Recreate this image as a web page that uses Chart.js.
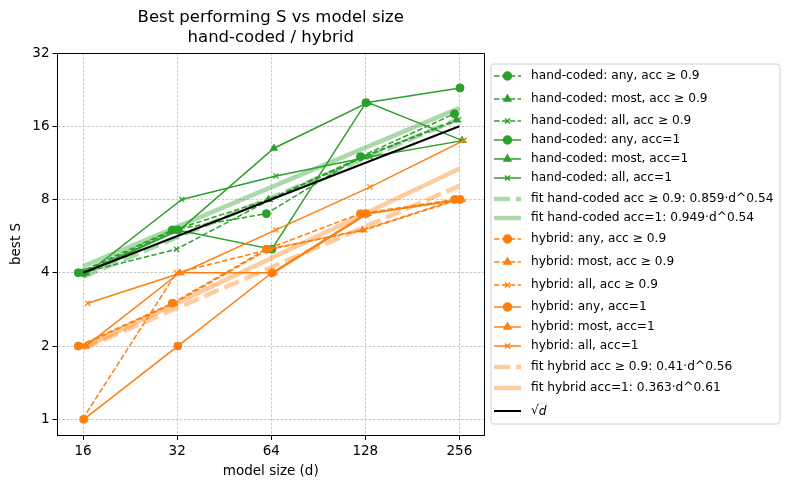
<!DOCTYPE html>
<html>
<head>
<meta charset="utf-8">
<script src="https://cdn.jsdelivr.net/npm/chart.js@4.4.1/dist/chart.umd.min.js"></script>
<style>
  html, body { margin: 0; padding: 0; background: #fff; }
</style>
</head>
<body>
<canvas id="grafico" width="790" height="489"></canvas>
<script>
// Tamaños de modelo (eje x) y marcas de los ejes
const modelSizes = [16, 32, 64, 128, 256];
const xTicks = [16, 32, 64, 128, 256];
const yTicks = [1, 2, 4, 8, 16, 32];

// hand-coded: mejor S por tamaño de modelo
const handAny09 = [4, 6, 7, 12, 18];
const handMost09 = [4, 6, 8, 12, 17];
const handAll09 = [4, 5, 8, 12, 17];
const handAny1 = [4, 6, 5, 20, 23];
const handMost1 = [4, 6, 13, 20, 14];
const handAll1 = [4, 8, 10, 12, 14];

// hybrid: mejor S por tamaño de modelo
const hybAny09 = [2, 3, 5, 7, 8];
const hybMost09 = [2, 3, 5, 6, 8];
const hybAll09 = [1, 4, 5, 6, 8];
const hybAny1 = [1, 2, 4, 7, 8];
const hybMost1 = [2, 4, 4, 7, 8];
const hybAll1 = [3, 4, 6, 9, 14];

const fitSizes = [16, 256];
const fitHand09 = [3.85, 17.2];
const fitHand1 = [4.25, 19.0];
const fitHyb09 = [1.95, 9.1];
const fitHyb1 = [1.97, 10.7];
const sqrtD = [4, 16];

// Pequeño desplazamiento en x de cada serie (para que no se tapen)
const jitter = [0.965, 0.98, 0.995, 1.005, 1.02, 1.035];

const verde = '#2ca02c';
const naranja = '#ff7f0e';
const verdeClaro = 'rgba(44, 160, 44, 0.4)';
const naranjaClaro = 'rgba(255, 127, 14, 0.4)';
const fuente = 'DejaVu Sans';

// Función para crear una serie con marcadores
function serie(label, valores, color, discontinua, marcador, k) {
    return {
        label: label,
        data: modelSizes.map((d, i) => ({x: d * jitter[k], y: valores[i]})),
        borderColor: color,
        backgroundColor: color,
        borderWidth: 1.5,
        borderDash: discontinua ? [5.5, 2.4] : [],
        pointStyle: marcador,
        pointRadius: marcador === 'crossRot' ? 3.6 : 4,
        pointBorderWidth: marcador === 'crossRot' ? 1.2 : 1,
        pointHoverRadius: 0,
        tension: 0,
        fill: false
    };
}

// Función para crear una recta de ajuste
function ajuste(label, valores, color, discontinua, ancho) {
    return {
        label: label,
        data: fitSizes.map((d, i) => ({x: d, y: valores[i]})),
        borderColor: color,
        backgroundColor: color,
        borderWidth: ancho,
        borderDash: discontinua ? [16, 6] : [],
        pointRadius: 0,
        pointHoverRadius: 0,
        tension: 0,
        fill: false
    };
}

const ge = 'acc \u2265 0.9';
const datasets = [
    serie('hand-coded: any, ' + ge, handAny09, verde, true, 'circle', 0),
    serie('hand-coded: most, ' + ge, handMost09, verde, true, 'triangle', 1),
    serie('hand-coded: all, ' + ge, handAll09, verde, true, 'crossRot', 2),
    serie('hand-coded: any, acc=1', handAny1, verde, false, 'circle', 3),
    serie('hand-coded: most, acc=1', handMost1, verde, false, 'triangle', 4),
    serie('hand-coded: all, acc=1', handAll1, verde, false, 'crossRot', 5),
    ajuste('fit hand-coded ' + ge + ': 0.859\u00b7d^0.54', fitHand09, verdeClaro, true, 4.5),
    ajuste('fit hand-coded acc=1: 0.949\u00b7d^0.54', fitHand1, verdeClaro, false, 4.5),
    serie('hybrid: any, ' + ge, hybAny09, naranja, true, 'circle', 0),
    serie('hybrid: most, ' + ge, hybMost09, naranja, true, 'triangle', 1),
    serie('hybrid: all, ' + ge, hybAll09, naranja, true, 'crossRot', 2),
    serie('hybrid: any, acc=1', hybAny1, naranja, false, 'circle', 3),
    serie('hybrid: most, acc=1', hybMost1, naranja, false, 'triangle', 4),
    serie('hybrid: all, acc=1', hybAll1, naranja, false, 'crossRot', 5),
    ajuste('fit hybrid ' + ge + ': 0.41\u00b7d^0.56', fitHyb09, naranjaClaro, true, 4.5),
    ajuste('fit hybrid acc=1: 0.363\u00b7d^0.61', fitHyb1, naranjaClaro, false, 4.5),
    ajuste('sqrt', sqrtD, '#000', false, 2)
];
// Igual que matplotlib: la última serie queda encima
datasets.forEach((ds, i) => { ds.order = datasets.length - i; });

// Posiciones verticales de las filas de la leyenda
const filasLeyenda = [76, 99, 121, 140, 159, 178, 199, 218, 239, 262, 285, 307, 327, 346, 367, 388, 411];
const tamLeyenda = 12.2;

// Plugin: título, etiquetas de ejes, marco y leyenda a la derecha
const decorado = {
    id: 'decorado',
    afterDraw(chart) {
        const c = chart.ctx;
        const a = chart.chartArea;
        c.save();

        // marco superior y derecho
        c.strokeStyle = '#000';
        c.lineWidth = 1;
        c.beginPath();
        c.moveTo(a.left, a.top + 0.5);
        c.lineTo(a.right + 0.5, a.top + 0.5);
        c.lineTo(a.right + 0.5, a.bottom);
        c.stroke();

        // título
        const cx = (a.left + a.right) / 2;
        c.fillStyle = '#000';
        c.textAlign = 'center';
        c.textBaseline = 'middle';
        c.font = '16.5px "' + fuente + '"';
        c.fillText('Best performing S vs model size', cx, 18);
        c.fillText('hand-coded / hybrid', cx, 38);

        // etiquetas de ejes
        c.font = '13.5px "' + fuente + '"';
        c.fillText('model size (d)', cx, 471);
        c.save();
        c.translate(16, (a.top + a.bottom) / 2);
        c.rotate(-Math.PI / 2);
        c.fillText('best S', 0, 0);
        c.restore();

        // caja de la leyenda
        const bx = 491, by = 64, bw = 289, bh = 360, r = 3;
        c.beginPath();
        c.moveTo(bx + r, by);
        c.arcTo(bx + bw, by, bx + bw, by + bh, r);
        c.arcTo(bx + bw, by + bh, bx, by + bh, r);
        c.arcTo(bx, by + bh, bx, by, r);
        c.arcTo(bx, by, bx + bw, by, r);
        c.closePath();
        c.fillStyle = 'rgba(255,255,255,0.8)';
        c.fill();
        c.strokeStyle = '#d0d0d0';
        c.lineWidth = 1;
        c.stroke();

        // entradas
        const f = tamLeyenda + 'px "' + fuente + '"';
        c.font = f;
        c.textAlign = 'left';
        c.textBaseline = 'middle';
        chart.data.datasets.forEach((ds, i) => {
            const y = filasLeyenda[i];
            c.save();
            c.strokeStyle = ds.borderColor;
            c.lineWidth = ds.borderWidth;
            c.setLineDash(ds.borderDash || []);
            c.beginPath();
            c.moveTo(494, y);
            c.lineTo(521, y);
            c.stroke();
            c.setLineDash([]);
            if (ds.pointRadius > 0) {
                c.fillStyle = ds.backgroundColor;
                c.strokeStyle = ds.borderColor;
                Chart.helpers.drawPoint(c, {
                    pointStyle: ds.pointStyle,
                    radius: ds.pointRadius,
                    borderWidth: ds.pointBorderWidth,
                    rotation: 0
                }, 507.5, y);
            }
            c.restore();
            c.fillStyle = '#000';
            if (ds.label === 'sqrt') {
                c.fillText('\u221a', 531, y);
                const w = c.measureText('\u221a').width;
                c.font = 'italic ' + f;
                c.fillText('d', 531 + w, y + 1);
                const dw = c.measureText('d').width;
                c.lineWidth = 0.8;
                c.beginPath();
                c.moveTo(531 + w - 0.5, y - 8);
                c.lineTo(531 + w + dw + 1, y - 8);
                c.stroke();
                c.font = f;
            } else {
                c.fillText(ds.label, 531, y);
            }
        });
        c.restore();
    }
};

const ejeComun = {
    type: 'logarithmic',
    ticks: {
        callback: v => String(v),
        font: {family: fuente, size: 13.5},
        color: '#000',
        padding: 3,
        autoSkip: false,
        maxRotation: 0
    },
    grid: {
        color: '#b0b0b0',
        lineWidth: 0.7,
        tickColor: '#000',
        tickLength: 5,
        tickWidth: 1,
        tickBorderDash: []
    },
    border: {display: true, color: '#000', width: 1, dash: [2.6, 1.6]}
};

const ctx = document.getElementById('grafico').getContext('2d');
const chart = new Chart(ctx, {
    type: 'line',
    data: {datasets: datasets},
    options: {
        responsive: false,
        devicePixelRatio: 1,
        animation: false,
        parsing: true,
        layout: {padding: {top: 53, right: 306, left: 0, bottom: 0}},
        plugins: {legend: {display: false}, tooltip: {enabled: false}, title: {display: false}},
        scales: {
            x: Object.assign({}, ejeComun, {
                min: 13.25, max: 307,
                afterBuildTicks: s => { s.ticks = xTicks.map(v => ({value: v})); },
                afterFit: s => { s.height = 54; }
            }),
            y: Object.assign({}, ejeComun, {
                min: 0.862, max: 32,
                afterBuildTicks: s => { s.ticks = yTicks.map(v => ({value: v})); },
                afterFit: s => { s.width = 57.5; }
            })
        }
    },
    plugins: [decorado]
});
</script>
</body>
</html>
